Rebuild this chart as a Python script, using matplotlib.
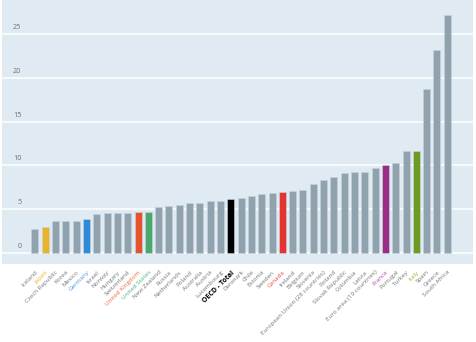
import matplotlib
matplotlib.use("Agg")
import matplotlib.pyplot as plt
import matplotlib.transforms as mtransforms

countries = ["Iceland", "Japan", "Czech Republic", "Korea", "Mexico", "Germany", "Israel",
             "Norway", "Hungary", "Switzerland", "United Kingdom", "United States",
             "New Zealand", "Russia", "Netherlands", "Poland", "Australia", "Austria",
             "Luxembourg", "OECD - Total", "Denmark", "Chile", "Estonia", "Sweden", "Canada",
             "Ireland", "Belgium", "Slovenia", "European Union (28 countries)", "Finland",
             "Slovak Republic", "Colombia", "Latvia", "Euro area (19 countries)", "France",
             "Portugal", "Turkey", "Italy", "Spain", "Greece", "South Africa"]
values = [2.7, 3.0, 3.7, 3.7, 3.7, 3.9, 4.4, 4.6, 4.6, 4.6, 4.7, 4.7,
          5.2, 5.4, 5.5, 5.7, 5.7, 5.9, 5.9, 6.2, 6.3, 6.5, 6.7, 6.9, 7.0,
          7.1, 7.2, 7.9, 8.3, 8.7, 9.1, 9.2, 9.3, 9.7, 10.0, 10.3, 11.6,
          11.7, 18.7, 23.2, 27.2]
highlight = {"Japan": ("#e8b52a", "#e8b52a"),
             "Germany": ("#2f8ad6", "#4a9be0"),
             "United Kingdom": ("#e5522b", "#ee6a3f"),
             "United States": ("#4ba86c", "#4fb583"),
             "OECD - Total": ("#000000", "#000000"),
             "Canada": ("#e3342f", "#e84a45"),
             "France": ("#9b2d86", "#b14aae"),
             "Italy": ("#6e9c22", "#8cbf3f")}
yticks = [0, 5, 10, 15, 20, 25]

bar_gray = "#8fa2ae"
bg = "#e0eaf2"

fig = plt.figure(figsize=(4.76, 3.42), dpi=100)
ax = fig.add_axes([2 / 476, 1 - 264 / 342, 471 / 476, 264 / 342])
ax.set_facecolor(bg)

x = list(range(len(countries)))
colors = [highlight[c][0] if c in highlight else bar_gray for c in countries]
ax.bar(x, values, width=0.68, color=colors, edgecolor="#c8d5de", linewidth=0.4, zorder=3)

for t in yticks:
    ax.axhline(t, color="white", lw=1.1, zorder=1)
trans = mtransforms.blended_transform_factory(ax.transAxes, ax.transData)
for t in yticks:
    ax.text(0.041, t + 0.35, str(t), transform=trans, ha="right", va="bottom",
            fontsize=5.2, color="#707070", family="Open Sans")

ax.set_xlim(-3.2, 42.5)
ax.set_ylim(-1.26, 28.9)
ax.set_yticks([])
ax.set_xticks(x)
ax.set_xticklabels(countries, rotation=45, ha="right", rotation_mode="anchor",
                   fontsize=4.5, family="Open Sans")
ax.tick_params(axis="x", length=0, pad=4)
for lab, c in zip(ax.get_xticklabels(), countries):
    if c in highlight:
        lab.set_color(highlight[c][1])
    else:
        lab.set_color("#777777")
    if c == "OECD - Total":
        lab.set_fontweight("bold")
        lab.set_fontsize(5.0)
for s in ax.spines.values():
    s.set_visible(False)

fig.savefig("out.png", dpi=100, facecolor="white")
